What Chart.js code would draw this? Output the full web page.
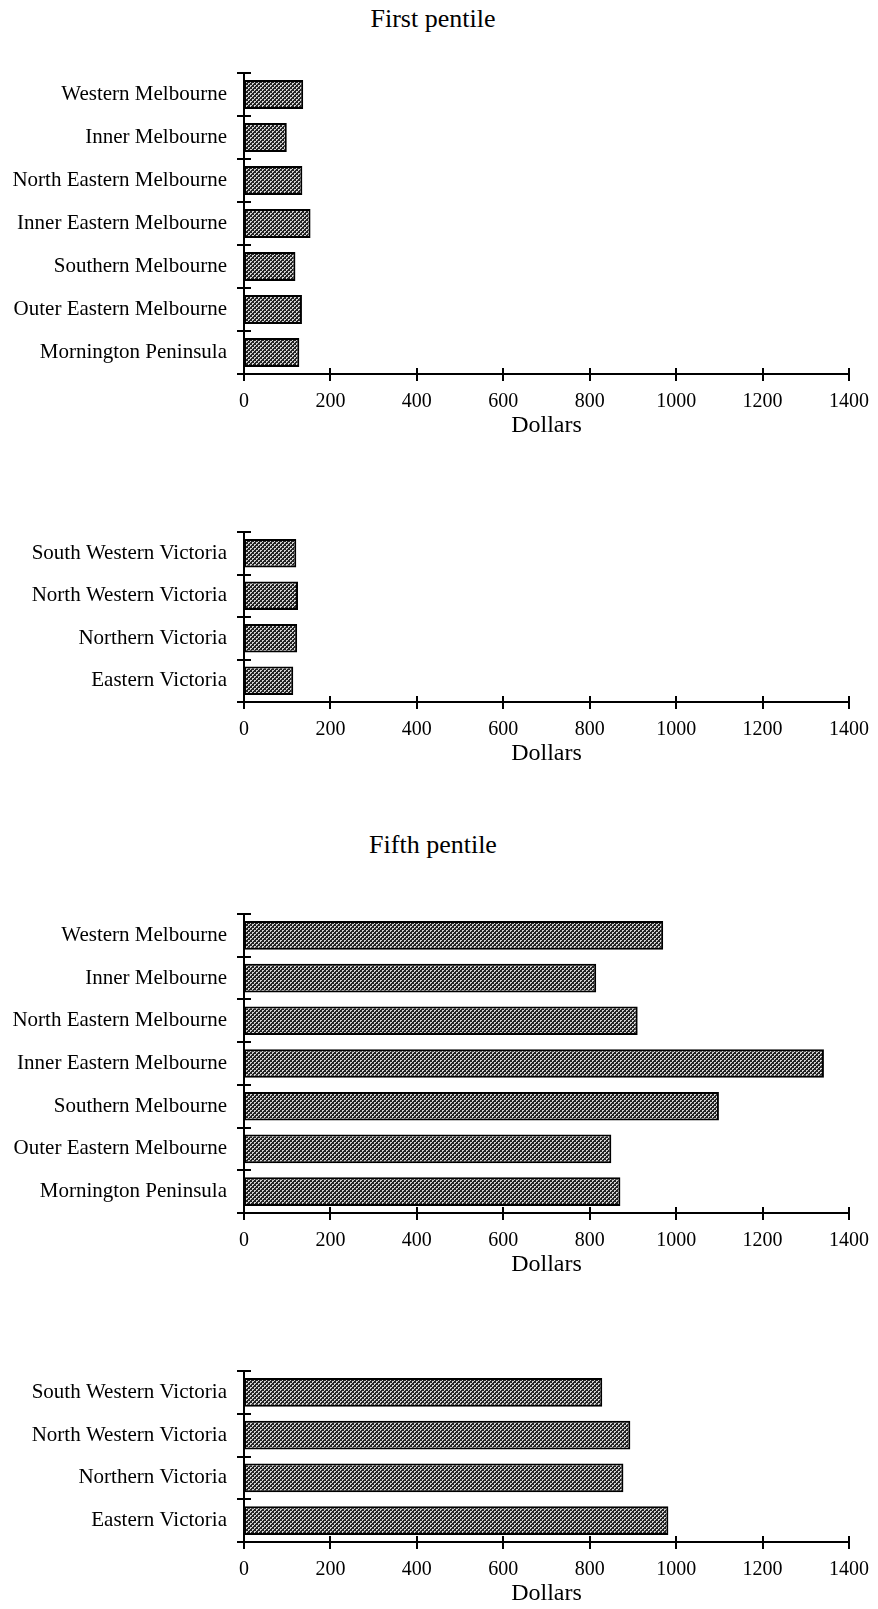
<!DOCTYPE html>
<html>
<head>
<meta charset="utf-8">
<script src="https://cdn.jsdelivr.net/npm/chart.js@4/dist/chart.umd.min.js"></script>
<style>
    body { margin: 0; background: #fff; width: 878px; height: 1609px; overflow: hidden; position: relative; }
    canvas { position: absolute; left: 0; }
    .title { position: absolute; left: 333px; width: 200px; text-align: center; font-family: "Liberation Serif", "Times New Roman", serif; font-size: 26px; line-height: 30px; color: #000; }
</style>
</head>
<body>
<div class="title" style="top:4px">First pentile</div>
<div class="title" style="top:830px">Fifth pentile</div>
<canvas id="melb1" width="878" height="375" style="top:63px"></canvas>
<canvas id="vic1" width="878" height="244" style="top:522px"></canvas>
<canvas id="melb5" width="878" height="373" style="top:904px"></canvas>
<canvas id="vic5" width="878" height="245" style="top:1361px"></canvas>
<script>
let melb_regions = ["Western Melbourne", "Inner Melbourne", "North Eastern Melbourne", "Inner Eastern Melbourne", "Southern Melbourne", "Outer Eastern Melbourne", "Mornington Peninsula"];
let vic_regions = ["South Western Victoria", "North Western Victoria", "Northern Victoria", "Eastern Victoria"];

// dollars
let first_melb = [137, 99, 135, 154, 119, 134, 128];
let first_vic = [121, 125, 123, 114];
let fifth_melb = [970, 815, 911, 1342, 1099, 850, 871];
let fifth_vic = [829, 894, 878, 982];

let x_ticks = [0, 200, 400, 600, 800, 1000, 1200, 1400];

let serif = '"Liberation Serif", "Times New Roman", serif';
let ink = "#000";

function make_pattern() {
    let c = document.createElement("canvas");
    c.width = 4;
    c.height = 4;
    let g = c.getContext("2d");
    g.fillStyle = "#242424";
    g.fillRect(0, 0, 4, 4);
    g.fillStyle = "#d2d2d2";
    g.fillRect(0, 0, 2, 1);
    g.fillRect(0, 1, 1, 1);
    g.fillRect(2, 2, 2, 1);
    g.fillRect(2, 3, 1, 1);
    return g.createPattern(c, "repeat");
}

// ticks that cross the axis lines, like the original
const cross_ticks = {
    id: "cross_ticks",
    afterDraw(chart) {
        let ctx = chart.ctx;
        let x = chart.scales.x;
        let y = chart.scales.y;
        ctx.save();
        ctx.strokeStyle = ink;
        ctx.lineWidth = 2;
        ctx.beginPath();
        for (let i = 0; i <= y.ticks.length; i++) {
            let py = Math.round(y.getPixelForValue(i - 0.5));
            ctx.moveTo(y.right - 7, py);
            ctx.lineTo(y.right + 7, py);
        }
        for (let i = 0; i < x.ticks.length; i++) {
            let px = Math.round(x.getPixelForTick(i));
            ctx.moveTo(px, x.top - 6);
            ctx.lineTo(px, x.top + 7);
        }
        ctx.stroke();
        ctx.restore();
    }
};

let fill = make_pattern();

function draw(id, labels, values) {
    new Chart(document.getElementById(id), {
        type: "bar",
        data: {
            labels: labels,
            datasets: [{
                data: values,
                backgroundColor: fill,
                borderColor: ink,
                borderWidth: 2,
                borderSkipped: false,
                barPercentage: 0.67,
                categoryPercentage: 1
            }]
        },
        plugins: [cross_ticks],
        options: {
            indexAxis: "y",
            responsive: false,
            animation: false,
            events: [],
            layout: { padding: { top: 10, right: 29, left: 0, bottom: 0 } },
            plugins: { legend: { display: false }, tooltip: { enabled: false } },
            scales: {
                x: {
                    min: 0,
                    max: 1400,
                    afterBuildTicks: (scale) => { scale.ticks = x_ticks.map(v => ({ value: v })); },
                    afterFit: (scale) => { scale.height = 64; scale.paddingLeft = 0; scale.paddingRight = 0; },
                    grid: { display: false, drawTicks: false },
                    border: { display: true, color: ink, width: 2 },
                    ticks: { color: ink, padding: 18, maxRotation: 0, callback: (v) => String(v), font: { family: serif, size: 20, lineHeight: 1 } },
                    title: { display: true, text: "Dollars", color: ink, padding: 0, font: { family: serif, size: 24, lineHeight: 1 } }
                },
                y: {
                    afterFit: (scale) => { scale.width = 244; scale.paddingTop = 0; scale.paddingBottom = 0; },
                    grid: { display: false, drawTicks: false },
                    border: { display: true, color: ink, width: 2 },
                    ticks: { color: ink, padding: 17, font: { family: serif, size: 21 } }
                }
            }
        }
    });
}

draw("melb1", melb_regions, first_melb);
draw("vic1", vic_regions, first_vic);
draw("melb5", melb_regions, fifth_melb);
draw("vic5", vic_regions, fifth_vic);
</script>
</body>
</html>
